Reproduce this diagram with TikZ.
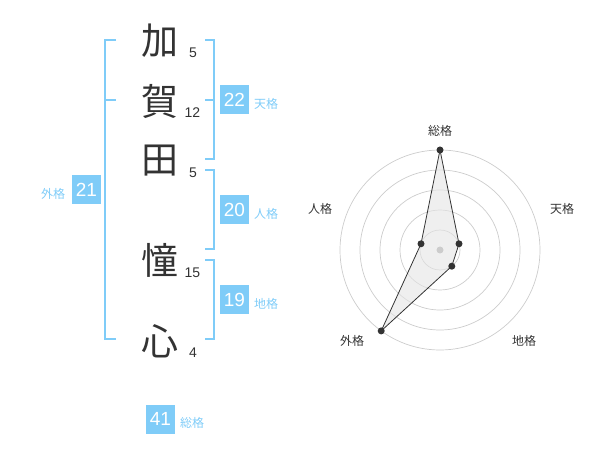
\documentclass[tikz,border=0pt]{standalone}
\usepackage{fontspec}
\setmainfont{Liberation Sans}
\newfontfamily\cjk{Noto Sans CJK JP}
\definecolor{lblue}{HTML}{7FCCF8}
\definecolor{dtext}{HTML}{333333}
\definecolor{ring}{HTML}{CCCCCC}
\begin{document}
\begin{tikzpicture}[x=1pt,y=-1pt,
  bigch/.style={font=\cjk\fontsize{37}{37}\selectfont, text=dtext, inner sep=0pt},
  strokes/.style={font=\fontsize{14}{14}\selectfont, text=dtext, inner sep=0pt},
  valbox/.style={fill=lblue, text=white, minimum width=29pt, minimum height=29pt, inner sep=0pt, font=\fontsize{19}{19}\selectfont},
  kaku/.style={font=\cjk\fontsize{12}{12}\selectfont, text=lblue, inner sep=0pt},
  brk/.style={draw=lblue, line width=2pt},
  rlabel/.style={font=\cjk\fontsize{12}{12}\selectfont, text=dtext, inner sep=0pt},
  ringc/.style={draw=ring, line width=0.7pt},
  dot/.style={circle, fill=dtext, minimum size=7pt, inner sep=0pt}]
\useasboundingbox (0,0) rectangle (600,470);
% characters
\node[bigch] (c1) at (160,41) {加};
\node[bigch] (c2) at (160,101) {賀};
\node[bigch] (c3) at (160,161) {田};
\node[bigch] (c4) at (160,260) {憧};
\node[bigch] (c5) at (160,341) {心};
\node[strokes] (s1) at (193,53) {5};
\node[strokes] (s2) at (192.5,113) {12};
\node[strokes] (s3) at (193,173) {5};
\node[strokes] (s4) at (192.5,273) {15};
\node[strokes] (s5) at (193,353) {4};
% brackets
\draw[brk] (116,40) -- (105,40) -- (105,339) -- (116,339);
\draw[brk] (105,100) -- (116,100);
\draw[brk] (205,40) -- (214,40) -- (214,159) -- (205,159);
\draw[brk] (214,100) -- (205,100);
\draw[brk] (205,170) -- (214,170) -- (214,249) -- (205,249);
\draw[brk] (205,260) -- (214,260) -- (214,339) -- (205,339);
% value boxes
\node[valbox] (ten) at (234.5,100) {22};
\node[kaku] (tenl) at (266,104) {天格};
\node[valbox] (jin) at (234.5,210) {20};
\node[kaku] (jinl) at (266,214) {人格};
\node[valbox] (chi) at (234.5,300) {19};
\node[kaku] (chil) at (266,304) {地格};
\node[valbox] (gai) at (86.5,190) {21};
\node[kaku] (gail) at (53,194) {外格};
\node[valbox] (sou) at (160.5,419) {41};
\node[kaku] (soul) at (192,423) {総格};
% radar
\coordinate (O) at (440,250);
\foreach \r in {20,40,60,80,100} \draw[ringc] (O) circle[radius=\r];
\coordinate (pS) at (440,150);
\coordinate (pT) at (459.0,243.8);
\coordinate (pC) at (451.8,266.2);
\coordinate (pG) at (381.2,330.9);
\coordinate (pJ) at (421.0,243.8);
\fill[black!10, opacity=0.6] (pS) -- (pT) -- (pC) -- (pG) -- (pJ) -- cycle;
\draw[dtext, line width=0.8pt] (pS) -- (pT) -- (pC) -- (pG) -- (pJ) -- cycle;
\node[circle, fill=ring, minimum size=7pt, inner sep=0pt] (ctr) at (O) {};
\node[dot] (dS) at (pS) {};
\node[dot] (dT) at (pT) {};
\node[dot] (dC) at (pC) {};
\node[dot] (dG) at (pG) {};
\node[dot] (dJ) at (pJ) {};
\node[rlabel] (lS) at (440,131) {総格};
\node[rlabel] (lT) at (562,209) {天格};
\node[rlabel] (lC) at (524,341) {地格};
\node[rlabel] (lG) at (352,341) {外格};
\node[rlabel] (lJ) at (320,209) {人格};
\end{tikzpicture}
\end{document}
